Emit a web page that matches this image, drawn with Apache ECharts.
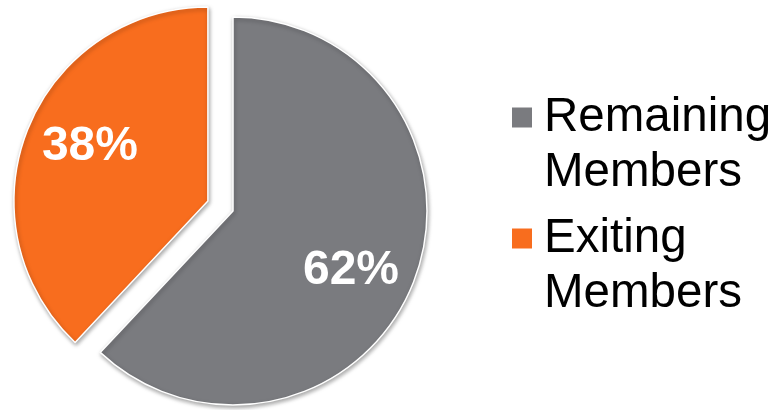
<!DOCTYPE html>
<html>
<head>
<meta charset="utf-8">
<style>
  html, body { margin: 0; padding: 0; background: #fff; }
  #chart { width: 776px; height: 410px; }
</style>
<script src="https://cdn.jsdelivr.net/npm/echarts@6/dist/echarts.min.js"></script>
</head>
<body>
<div id="chart"></div>
<script>
const categories = ['Remaining Members', 'Exiting Members'];
const shares = [62, 38];
const colors = ['#7a7b7f', '#f86d1e'];
const exploded = [false, true];

const chart = echarts.init(document.getElementById('chart'));

const sliceStyle = {
  borderColor: '#ffffff',
  borderWidth: 1.5,
  shadowBlur: 4,
  shadowColor: 'rgba(0, 0, 0, 0.35)',
  shadowOffsetX: 1,
  shadowOffsetY: 2
};

// nudge percentage labels outward from the default 'inside' spot
const labelOffsets = [[25, 23], [-25, -17]];

const legendFont = {
  color: '#000',
  fontFamily: 'Liberation Sans, Arial, sans-serif',
  fontSize: 47.5,
  lineHeight: 55
};

const option = {
  animation: false,
  color: colors,
  legend: {
    orient: 'vertical',
    left: 510,
    top: 35,
    padding: 0,
    itemWidth: 22,
    itemHeight: 22,
    itemGap: -44,
    icon: 'rect',
    selectedMode: false,
    // blank line on top so the first text line sits level with the square
    formatter: (name) => '{s| }\n{t|' + name.replace(' ', '}\n{t|') + '}',
    textStyle: {
      ...legendFont,
      padding: [0, 0, 0, 6],
      rich: {
        s: { ...legendFont },
        t: { ...legendFont }
      }
    },
    data: categories
  },
  series: [
    {
      type: 'pie',
      center: [233, 211],
      radius: 194,
      startAngle: 90,
      clockwise: true,
      selectedMode: 'single',
      selectedOffset: 27,
      silent: true,
      label: {
        show: true,
        position: 'inside',
        formatter: '{c}%',
        color: '#fff',
        fontFamily: 'Liberation Sans, Arial, sans-serif',
        fontWeight: 'bold',
        fontSize: 48
      },
      labelLine: { show: false },
      itemStyle: sliceStyle,
      select: { itemStyle: sliceStyle },
      emphasis: { disabled: true },
      data: categories.map((name, i) => ({
        name: name,
        value: shares[i],
        selected: exploded[i],
        label: { offset: labelOffsets[i] },
        select: { label: { offset: labelOffsets[i] } }
      }))
    }
  ]
};

chart.setOption(option);
</script>
</body>
</html>
